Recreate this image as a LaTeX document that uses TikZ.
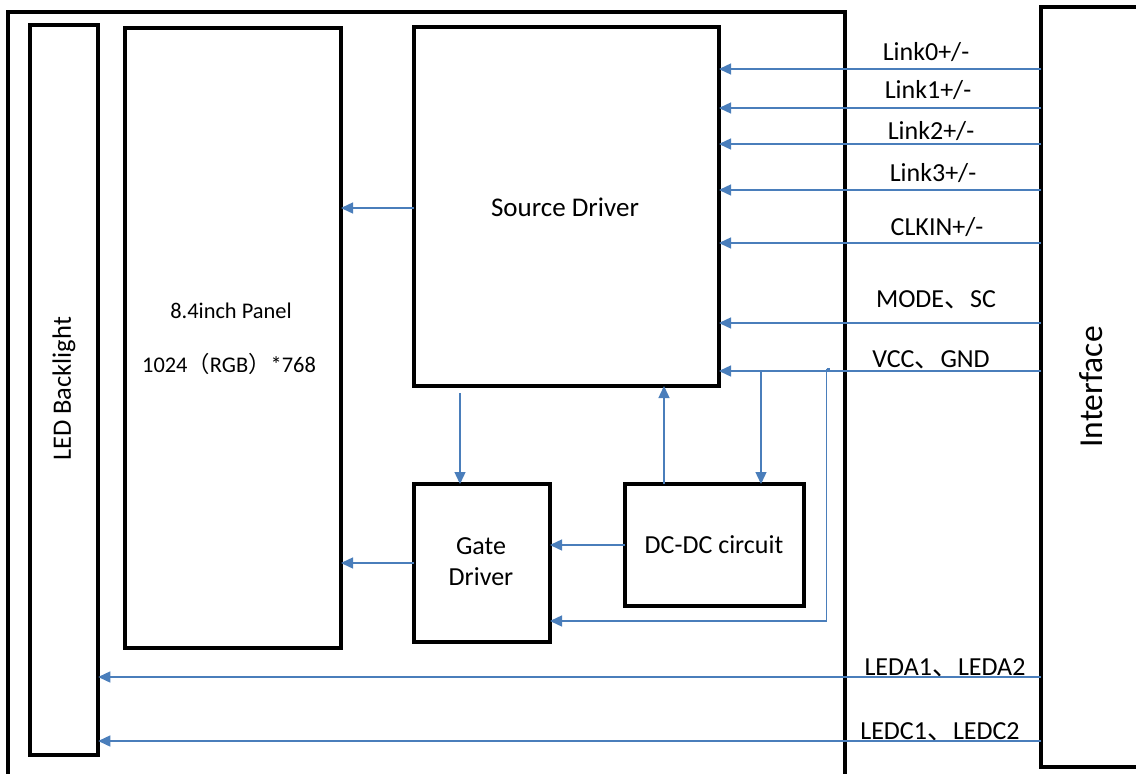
\documentclass[tikz,border=0pt]{standalone}
\usepackage{fontspec}
\setmainfont{Carlito}
\newfontfamily\cjk{Noto Sans CJK SC}
\usetikzlibrary{arrows.meta}
\definecolor{lblue}{HTML}{4A7EBB}
\tikzset{
  blk/.style={draw=black, line width=4pt, fill=none, inner sep=0pt, outer sep=0pt},
  conn/.style={draw=lblue, line width=1.4pt, -{Triangle[length=12pt,width=11pt]}},
  wire/.style={draw=lblue, line width=1.4pt},
  lbl/.style={anchor=base, inner sep=0pt, font=\fontsize{26}{30}\selectfont},
  txt/.style={inner sep=0pt, font=\fontsize{26}{30}\selectfont},
}
\begin{document}
\begin{tikzpicture}[x=1pt,y=-1pt]
\useasboundingbox (0,0) rectangle (1136,774);
\clip (0,0) rectangle (1136,774);
% outer frame
\draw[black, line width=4pt] (8,790) -- (8,11.5) -- (845,11.5) -- (845,790);
% boxes
\node[blk, minimum width=68.5pt, minimum height=730pt] (led) at (64,390) {};
\node[blk, minimum width=216pt, minimum height=620pt] (panel) at (233,337.5) {};
\node[blk, minimum width=305pt, minimum height=359pt] (sd) at (566.5,206.5) {};
\node[blk, minimum width=136pt, minimum height=158pt] (gd) at (482,563) {};
\node[blk, minimum width=179.5pt, minimum height=122pt] (dc) at (714.5,545) {};
\node[blk, minimum width=110pt, minimum height=760pt, anchor=north west] (iface) at (1041,7) {};
% texts
\node[txt, font=\fontsize{26.5}{30}\selectfont, rotate=90] (tled) at (64,389) {LED Backlight};
\node[txt, font=\fontsize{33.5}{36}\selectfont, rotate=90] (tif) at (1091,387) {Interface};
\node[txt, font=\fontsize{22.4}{25}\selectfont] (tp1) at (231,311) {8.4inch Panel};
\node[txt, font=\fontsize{22.4}{25}\selectfont] (tp2) at (229,364) {1024{\cjk （}RGB{\cjk ）}*768};
\node[txt, font=\fontsize{27}{30}\selectfont] (tsd) at (565,207) {Source Driver};
\node[txt, align=center, font=\fontsize{26}{31}\selectfont] (tgd) at (481,562) {Gate\\Driver};
\node[txt] (tdc) at (714,545) {DC-DC circuit};
% input lines
\foreach \y in {69,108,144,190,243,323,371}{
  \draw[conn] (iface.west |- 0,\y) -- (sd.east |- 0,\y);
}
\node[lbl] (l0) at (926,60) {Link0+/-};
\node[lbl] (l1) at (928,98) {Link1+/-};
\node[lbl] (l2) at (931,139) {Link2+/-};
\node[lbl] (l3) at (933,181) {Link3+/-};
\node[lbl] (l4) at (937,235) {CLKIN+/-};
\node[lbl] (l5) at (936,307) {MODE{\cjk 、}SC};
\node[lbl] (l6) at (931,367) {VCC{\cjk 、}GND};
\node[lbl] (l7) at (945,675) {LEDA1{\cjk 、}LEDA2};
\node[lbl] (l8) at (940,739) {LEDC1{\cjk 、}LEDC2};
% VCC branches
\coordinate (b1) at (761,371);
\coordinate (b2) at (826.5,369);
\coordinate (b3) at (826.5,621);
\draw[conn] (b1) -- (dc.north -| b1);
\draw[wire] (b2) -- (b3);
\draw[wire] (b2) -- ++(3,0);
\draw[conn] (b3) -- (gd.east |- b3);
% internal connections
\draw[conn] (sd.west |- 0,208) -- (panel.east |- 0,208);
\draw[conn] (gd.west |- 0,563) -- (panel.east |- 0,563);
\draw[conn] (460,393) -- (gd.north -| 460,0);
\draw[conn] (dc.north -| 664,0) -- (sd.south -| 664,0);
\draw[conn] (dc.west |- 0,545) -- (gd.east |- 0,545);
% LED lines
\draw[conn] (iface.west |- 0,677) -- (led.east |- 0,677);
\draw[conn] (iface.west |- 0,741) -- (led.east |- 0,741);
\end{tikzpicture}
\end{document}
